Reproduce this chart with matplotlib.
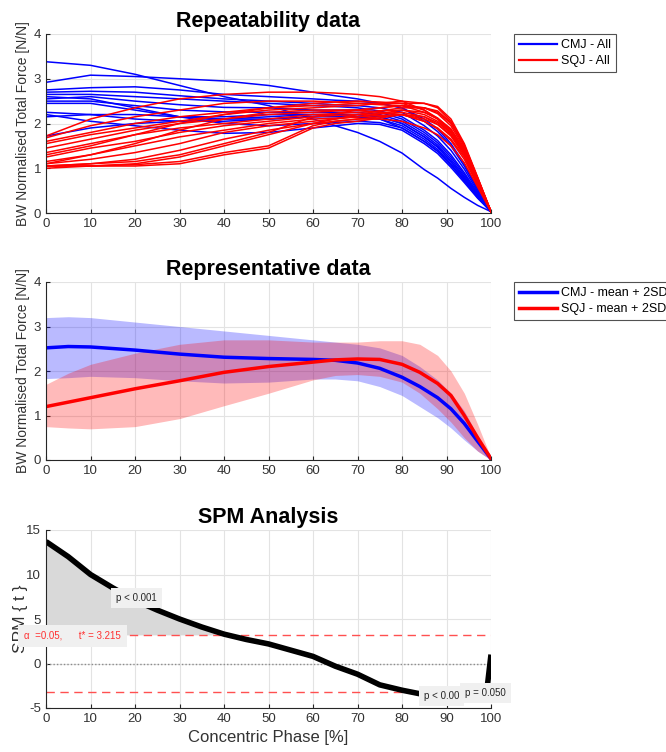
import numpy as np
import matplotlib
matplotlib.use("Agg")
import matplotlib.pyplot as plt

plt.rcParams['font.family'] = ['Liberation Sans', 'DejaVu Sans']
plt.rcParams['axes.unicode_minus'] = False

# ---------------- data ----------------
phase = [0, 10, 20, 30, 40, 50, 60, 65, 70, 75, 80, 85, 88, 91, 94, 97, 100]

cmj_all = [
    [3.38, 3.30, 3.10, 2.85, 2.60, 2.40, 2.10, 1.95, 1.80, 1.60, 1.34, 0.97, 0.78, 0.55, 0.35, 0.17, 0.03],
    [2.92, 3.08, 3.05, 3.00, 2.95, 2.85, 2.70, 2.62, 2.55, 2.45, 2.35, 2.10, 1.88, 1.55, 1.10, 0.55, 0.03],
    [2.75, 2.80, 2.82, 2.75, 2.65, 2.60, 2.55, 2.52, 2.50, 2.45, 2.35, 2.05, 1.82, 1.50, 1.05, 0.52, 0.03],
    [2.70, 2.72, 2.70, 2.62, 2.55, 2.50, 2.45, 2.42, 2.40, 2.35, 2.25, 1.95, 1.72, 1.40, 0.98, 0.48, 0.03],
    [2.65, 2.65, 2.60, 2.55, 2.50, 2.45, 2.40, 2.38, 2.35, 2.28, 2.15, 1.85, 1.62, 1.30, 0.90, 0.45, 0.03],
    [2.55, 2.60, 2.50, 2.42, 2.36, 2.35, 2.30, 2.30, 2.30, 2.25, 2.10, 1.80, 1.57, 1.25, 0.86, 0.42, 0.03],
    [2.50, 2.50, 2.40, 2.30, 2.26, 2.25, 2.25, 2.25, 2.25, 2.20, 2.05, 1.75, 1.52, 1.20, 0.82, 0.40, 0.03],
    [2.45, 2.45, 2.30, 2.15, 2.10, 2.10, 2.15, 2.18, 2.20, 2.15, 2.00, 1.70, 1.47, 1.15, 0.78, 0.38, 0.03],
    [2.25, 2.20, 2.10, 2.05, 2.05, 2.10, 2.15, 2.15, 2.15, 2.10, 1.95, 1.65, 1.42, 1.10, 0.74, 0.36, 0.03],
    [2.15, 2.20, 2.20, 2.15, 2.15, 2.20, 2.20, 2.18, 2.15, 2.10, 1.90, 1.60, 1.38, 1.07, 0.72, 0.35, 0.03],
    [2.20, 2.05, 1.95, 1.85, 1.78, 1.80, 1.90, 1.95, 2.00, 1.98, 1.85, 1.55, 1.33, 1.02, 0.68, 0.33, 0.03],
    [2.60, 2.55, 2.35, 2.15, 2.00, 1.95, 2.00, 2.02, 2.05, 2.02, 1.90, 1.60, 1.38, 1.07, 0.72, 0.35, 0.03],
    [1.72, 1.90, 2.00, 2.05, 2.10, 2.15, 2.20, 2.20, 2.20, 2.15, 2.00, 1.70, 1.48, 1.15, 0.78, 0.38, 0.03],
]

sqj_all = [
    [1.72, 2.10, 2.35, 2.55, 2.65, 2.70, 2.70, 2.68, 2.65, 2.60, 2.50, 2.30, 2.10, 1.80, 1.35, 0.70, 0.03],
    [1.68, 1.95, 2.15, 2.30, 2.45, 2.50, 2.50, 2.48, 2.45, 2.42, 2.40, 2.25, 2.10, 1.85, 1.40, 0.72, 0.03],
    [1.60, 1.80, 2.00, 2.15, 2.25, 2.35, 2.40, 2.42, 2.45, 2.45, 2.45, 2.45, 2.38, 2.10, 1.55, 0.80, 0.03],
    [1.55, 1.75, 1.90, 2.05, 2.20, 2.30, 2.35, 2.38, 2.40, 2.45, 2.50, 2.45, 2.35, 2.05, 1.50, 0.78, 0.03],
    [1.45, 1.65, 1.85, 2.00, 2.10, 2.20, 2.25, 2.28, 2.30, 2.35, 2.40, 2.35, 2.22, 1.95, 1.45, 0.75, 0.03],
    [1.35, 1.55, 1.75, 1.90, 2.00, 2.10, 2.20, 2.22, 2.25, 2.28, 2.30, 2.20, 2.05, 1.80, 1.35, 0.70, 0.03],
    [1.25, 1.45, 1.60, 1.80, 1.95, 2.05, 2.15, 2.18, 2.20, 2.22, 2.25, 2.15, 1.98, 1.72, 1.28, 0.66, 0.03],
    [1.15, 1.30, 1.50, 1.70, 1.85, 2.00, 2.10, 2.12, 2.15, 2.18, 2.20, 2.05, 1.88, 1.62, 1.20, 0.62, 0.03],
    [1.10, 1.20, 1.35, 1.55, 1.80, 1.95, 2.05, 2.10, 2.15, 2.22, 2.30, 2.25, 2.12, 1.88, 1.42, 0.74, 0.03],
    [1.05, 1.10, 1.20, 1.40, 1.65, 1.85, 2.00, 2.05, 2.10, 2.15, 2.20, 2.10, 1.98, 1.75, 1.32, 0.68, 0.03],
    [1.05, 1.05, 1.10, 1.25, 1.50, 1.75, 2.00, 2.10, 2.20, 2.28, 2.35, 2.35, 2.28, 2.02, 1.52, 0.78, 0.03],
    [1.05, 1.05, 1.08, 1.15, 1.35, 1.50, 1.95, 2.05, 2.10, 2.10, 2.05, 1.90, 1.75, 1.50, 1.12, 0.58, 0.03],
    [1.00, 1.05, 1.05, 1.10, 1.30, 1.45, 1.90, 2.00, 2.05, 2.12, 2.20, 2.15, 2.02, 1.78, 1.35, 0.70, 0.03],
    [1.05, 1.10, 1.15, 1.30, 1.55, 1.80, 2.15, 2.22, 2.30, 2.35, 2.40, 2.35, 2.25, 2.00, 1.50, 0.78, 0.03],
    [1.30, 1.50, 1.75, 2.00, 2.20, 2.35, 2.45, 2.48, 2.50, 2.48, 2.45, 2.30, 2.12, 1.85, 1.38, 0.72, 0.03],
    [1.10, 1.30, 1.55, 1.85, 2.10, 2.25, 2.30, 2.30, 2.30, 2.25, 2.20, 2.05, 1.90, 1.65, 1.25, 0.65, 0.03],
]

rep_phase = [0, 5, 10, 20, 30, 40, 50, 60, 65, 70, 75, 80, 84, 88, 91, 94, 97, 100]
cmj_mean  = [2.52, 2.55, 2.54, 2.47, 2.38, 2.31, 2.28, 2.26, 2.24, 2.18, 2.06, 1.86, 1.65, 1.40, 1.15, 0.82, 0.42, 0.03]
cmj_upper = [3.20, 3.22, 3.20, 3.10, 3.00, 2.90, 2.80, 2.70, 2.65, 2.60, 2.52, 2.35, 2.10, 1.80, 1.50, 1.10, 0.55, 0.05]
cmj_lower = [1.83, 1.85, 1.88, 1.85, 1.78, 1.73, 1.75, 1.82, 1.82, 1.78, 1.65, 1.45, 1.20, 0.95, 0.72, 0.45, 0.20, 0.00]
sqj_mean  = [1.20, 1.30, 1.40, 1.60, 1.78, 1.97, 2.10, 2.20, 2.25, 2.27, 2.26, 2.15, 1.97, 1.72, 1.45, 1.00, 0.50, 0.03]
sqj_upper = [1.70, 1.95, 2.15, 2.40, 2.60, 2.70, 2.70, 2.65, 2.65, 2.65, 2.68, 2.68, 2.60, 2.35, 2.00, 1.50, 0.80, 0.05]
sqj_lower = [0.75, 0.72, 0.70, 0.75, 0.93, 1.22, 1.50, 1.80, 1.90, 1.92, 1.88, 1.75, 1.50, 1.15, 0.85, 0.50, 0.20, 0.00]

spm_phase = [0, 5, 10, 15, 20, 25, 30, 35, 40, 45, 50, 55, 60, 65, 70, 75, 80, 85, 90, 95, 99, 100]
spm_t = [13.7, 12.0, 10.0, 8.5, 7.1, 6.0, 5.0, 4.1, 3.3, 2.7, 2.2, 1.5, 0.8, -0.3, -1.2, -2.4,
         -3.0, -3.5, -3.6, -3.5, -3.3, 1.0]
t_crit = 3.215

# ---------------- figure ----------------
fig = plt.figure(figsize=(6.66, 7.52), dpi=100)
W, H = 666, 752
TXT = '#333333'

def add_ax(l, r, t, b):
    return fig.add_axes([l / W, 1 - b / H, (r - l) / W, (b - t) / H])

def style(ax):
    ax.grid(True, color='#e3e3e3', linewidth=0.8)
    ax.set_axisbelow(True)
    for s in ['top', 'right']:
        ax.spines[s].set_visible(False)
    for s in ['left', 'bottom']:
        ax.spines[s].set_color('#262626')
        ax.spines[s].set_linewidth(0.8)
    ax.tick_params(direction='in', length=3, colors='#262626', labelcolor=TXT, labelsize=9.5,
                   pad=3.5)
    ax.set_xlim(0, 100)
    ax.set_xticks(range(0, 101, 10))

ax1 = add_ax(46, 491, 34, 213)
ax2 = add_ax(46, 491, 282, 460)
ax3 = add_ax(46, 491, 530, 708)

leg_kw = dict(loc='upper left', bbox_transform=fig.transFigure, fontsize=9, frameon=True,
              fancybox=False, edgecolor='#262626', handlelength=3.0, handletextpad=0.35,
              borderaxespad=0, labelspacing=0.35, borderpad=0.4)

# --- top ---
style(ax1)
for i, c in enumerate(cmj_all):
    ax1.plot(phase, c, color='#0000ff', lw=1.1, label='CMJ - All' if i == 0 else None)
for i, c in enumerate(sqj_all):
    ax1.plot(phase, c, color='#ff0000', lw=1.1, label='SQJ - All' if i == 0 else None)
ax1.set_ylim(0, 4)
ax1.set_yticks([0, 1, 2, 3, 4])
ax1.set_title('Repeatability data', fontsize=15.5, fontweight='bold', pad=5)
ax1.set_ylabel('BW Normalised Total Force [N/N]', fontsize=10, color=TXT)
ax1.yaxis.set_label_coords(-0.036, 0.5)
leg1 = ax1.legend(bbox_to_anchor=(514 / W, 1 - 34 / H), **leg_kw)
leg1.get_frame().set_linewidth(0.8)
for ln in leg1.get_lines():
    ln.set_linewidth(1.6)

# --- middle ---
style(ax2)
ax2.fill_between(rep_phase, cmj_lower, cmj_upper, color='#0000ff', alpha=0.27, lw=0)
ax2.plot(rep_phase, cmj_mean, color='#0000ff', lw=2.5, label='CMJ - mean + 2SD')
ax2.fill_between(rep_phase, sqj_lower, sqj_upper, color='#ff0000', alpha=0.27, lw=0)
ax2.plot(rep_phase, sqj_mean, color='#ff0000', lw=2.5, label='SQJ - mean + 2SD')
ax2.set_ylim(0, 4)
ax2.set_yticks([0, 1, 2, 3, 4])
ax2.set_title('Representative data', fontsize=15.5, fontweight='bold', pad=5)
ax2.set_ylabel('BW Normalised Total Force [N/N]', fontsize=10, color=TXT)
ax2.yaxis.set_label_coords(-0.036, 0.5)
leg2 = ax2.legend(bbox_to_anchor=(514 / W, 1 - 282 / H), **leg_kw)
leg2.get_frame().set_linewidth(0.8)

# --- bottom ---
style(ax3)
t_arr = np.array(spm_t)
ax3.fill_between(spm_phase, t_crit, t_arr, where=t_arr > t_crit, interpolate=True,
                 color='#d9d9d9', lw=0)
ax3.fill_between(spm_phase, -t_crit, t_arr, where=t_arr < -t_crit, interpolate=True,
                 color='#d9d9d9', lw=0)
ax3.axhline(0, color='#8c8c8c', lw=1.0, ls=(0, (1, 1.5)))
ax3.axhline(t_crit, color='#ff5050', lw=1.0, ls=(0, (6, 4)))
ax3.axhline(-t_crit, color='#ff5050', lw=1.0, ls=(0, (6, 4)))
ax3.plot(spm_phase, spm_t, color='black', lw=4, solid_capstyle='butt')
ax3.set_ylim(-5, 15)
ax3.set_yticks([-5, 0, 5, 10, 15])
ax3.set_title('SPM Analysis', fontsize=15.5, fontweight='bold', pad=5)
ax3.set_ylabel('SPM { t }', fontsize=12.5, color=TXT)
ax3.yaxis.set_label_coords(-0.04, 0.5)
ax3.set_xlabel('Concentric Phase [%]', fontsize=12, color=TXT, labelpad=4)

box = dict(facecolor='#f0f0f0', edgecolor='none', pad=3.5)
ax3.text(15.8, 7.36, 'p < 0.001', fontsize=7, color='#262626', va='center', ha='left', bbox=box,
         zorder=5)
ax3.text(-4.9, 3.1, '\u03b1  =0.05,      t* = 3.215', fontsize=7, color='#ff3030', va='center',
         ha='left', bbox=dict(facecolor='#f0f0f0', edgecolor='none', pad=4.5), zorder=5,
         clip_on=False)
ax3.text(85.0, -3.65, 'p < 0.00', fontsize=7, color='#262626', va='center', ha='left', bbox=box,
         zorder=5)
ax3.text(94.2, -3.3, 'p = 0.050', fontsize=7, color='#262626', va='center', ha='left', bbox=box,
         zorder=6, clip_on=False)

fig.savefig('out.png', dpi=100)
